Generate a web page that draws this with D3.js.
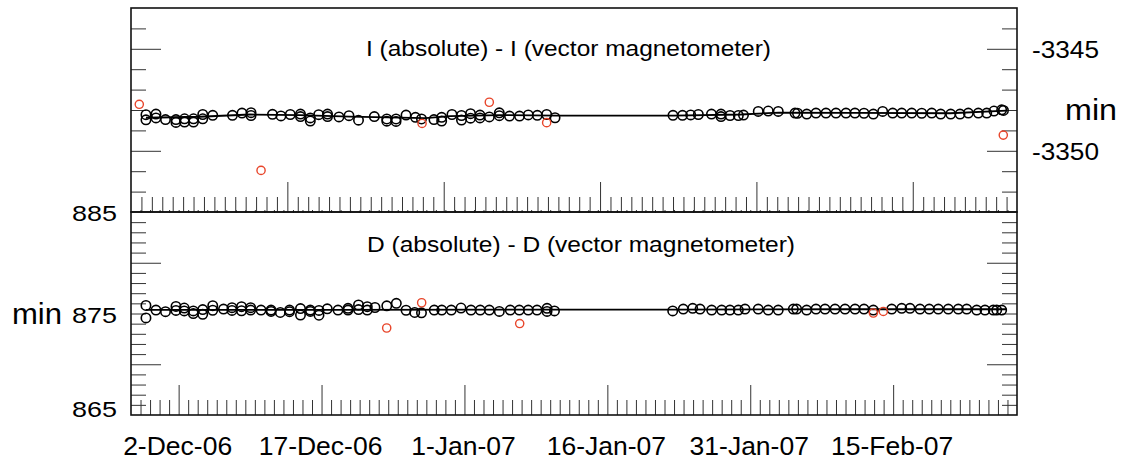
<!DOCTYPE html>
<html><head><meta charset="utf-8">
<script src="https://cdn.jsdelivr.net/npm/d3@7"></script>
<style>
body{margin:0;background:#fff}
svg{display:block}
text{font-family:"Liberation Sans",Arial,Helvetica,sans-serif;fill:#000}
</style>
</head><body>
<svg id="chart" width="1123" height="460"></svg>
<script>
// ---------- data (day offsets from 27-Nov-2006, values in minutes) ----------
const baseDate = new Date(2006, 10, 27);
const totalDays = 93;            // 27-Nov-06 .. 28-Feb-07
const topTickDays = 85;          // tick ruler of the upper panel
const majorTickLabels = ["2006-12-02","2006-12-17","2007-01-01","2007-01-16","2007-01-31","2007-02-15"];

const iTitle = "I (absolute) - I (vector magnetometer)";
const dTitle = "D (absolute) - D (vector magnetometer)";
const iDomain = [-3353, -3343];
const dDomain = [865, 885];
const iTickLabels = [-3345, -3350];
const dTickLabels = [885, 875, 865];

const iPoints = [[1.57,-3348.23],[1.57,-3348.48],[2.62,-3348.20],[2.62,-3348.39],[3.62,-3348.47],[4.72,-3348.47],[4.72,-3348.61],[5.62,-3348.43],[5.62,-3348.59],[6.56,-3348.43],[6.56,-3348.59],[7.53,-3348.22],[7.53,-3348.43],[8.58,-3348.26],[10.65,-3348.26],[11.65,-3348.15],[12.60,-3348.13],[12.60,-3348.27],[14.85,-3348.21],[15.74,-3348.29],[16.72,-3348.22],[17.79,-3348.20],[17.79,-3348.32],[18.82,-3348.39],[18.82,-3348.54],[19.70,-3348.23],[20.63,-3348.20],[20.63,-3348.32],[21.83,-3348.34],[22.88,-3348.28],[23.88,-3348.50],[25.54,-3348.32],[26.85,-3348.44],[26.85,-3348.55],[27.82,-3348.44],[27.82,-3348.56],[28.87,-3348.25],[29.86,-3348.36],[30.49,-3348.44],[31.80,-3348.47],[32.61,-3348.36],[32.61,-3348.54],[33.69,-3348.22],[34.69,-3348.27],[34.69,-3348.49],[35.64,-3348.18],[35.64,-3348.40],[36.63,-3348.25],[36.63,-3348.39],[37.61,-3348.34],[38.66,-3348.14],[38.66,-3348.28],[39.73,-3348.30],[40.78,-3348.30],[41.70,-3348.24],[42.65,-3348.26],[43.63,-3348.22],[44.51,-3348.38],[56.89,-3348.26],[57.89,-3348.26],[58.75,-3348.24],[59.55,-3348.22],[60.93,-3348.20],[61.93,-3348.20],[61.93,-3348.32],[62.88,-3348.27],[63.75,-3348.27],[64.29,-3348.25],[65.84,-3348.07],[66.89,-3348.05],[67.94,-3348.07],[69.70,-3348.15],[69.96,-3348.16],[70.93,-3348.20],[71.90,-3348.15],[72.95,-3348.15],[74.00,-3348.15],[75.05,-3348.15],[75.99,-3348.15],[76.94,-3348.16],[77.92,-3348.20],[78.90,-3348.07],[79.95,-3348.15],[80.90,-3348.15],[81.95,-3348.15],[83.00,-3348.16],[84.05,-3348.15],[84.99,-3348.20],[86.04,-3348.20],[87.02,-3348.20],[87.89,-3348.15],[88.94,-3348.15],[89.82,-3348.15],[90.58,-3348.05],[91.39,-3347.99],[91.58,-3348.02]];
const iRejected = [[0.87,-3347.72],[13.65,-3350.96],[30.55,-3348.66],[37.61,-3347.62],[43.63,-3348.62],[91.56,-3349.23]];
const iBaseline = [[1.57,-3348.38],[7.2,-3348.33],[12.5,-3348.22],[17.7,-3348.25],[23,-3348.32],[28.2,-3348.37],[30.9,-3348.40],[33.5,-3348.30],[38.7,-3348.25],[44.7,-3348.28],[56.9,-3348.28],[64,-3348.22],[68,-3348.13],[76,-3348.14],[86,-3348.16],[91.9,-3348.03]];

const dPoints = [[1.57,875.79],[1.57,874.56],[2.62,875.34],[3.62,875.18],[4.72,875.70],[4.72,875.30],[5.59,875.54],[5.59,875.25],[6.54,875.25],[6.54,875.00],[7.53,875.39],[7.53,874.92],[8.58,875.77],[8.58,875.32],[9.71,875.44],[10.60,875.57],[10.60,875.30],[11.60,875.67],[11.60,875.27],[12.56,875.57],[12.56,875.34],[13.65,875.34],[14.70,875.34],[14.70,875.20],[15.67,875.10],[16.64,875.34],[16.64,875.18],[17.79,875.49],[17.79,874.85],[18.82,875.34],[18.82,875.20],[19.73,875.30],[19.73,874.83],[20.60,875.46],[21.73,875.34],[22.78,875.51],[22.78,875.34],[23.88,875.84],[23.88,875.39],[24.80,875.67],[24.80,875.34],[25.61,875.59],[26.85,875.76],[27.85,876.00],[28.87,875.32],[29.78,875.10],[30.49,875.07],[31.83,875.34],[32.62,875.34],[33.62,875.34],[34.64,875.54],[35.69,875.34],[36.66,875.34],[37.61,875.34],[38.66,875.20],[39.81,875.34],[40.76,875.34],[41.70,875.34],[42.62,875.34],[43.67,875.51],[43.67,875.20],[44.45,875.25],[56.86,875.25],[57.97,875.44],[58.96,875.51],[59.73,875.44],[60.95,875.34],[62.00,875.34],[62.87,875.34],[63.75,875.34],[64.45,875.44],[65.84,875.44],[66.89,875.34],[67.94,875.34],[69.52,875.44],[69.87,875.44],[70.92,875.34],[71.90,875.44],[72.85,875.44],[73.90,875.44],[74.95,875.44],[76.00,875.44],[76.94,875.44],[77.92,875.34],[79.85,875.44],[80.90,875.51],[81.77,875.51],[82.82,875.44],[83.79,875.44],[84.74,875.44],[85.79,875.44],[86.84,875.44],[87.72,875.44],[88.77,875.34],[89.64,875.34],[90.51,875.34],[90.87,875.34],[91.39,875.34]];
const dRejected = [[26.84,873.57],[30.51,876.06],[40.80,874.01],[77.92,875.05],[78.97,875.20]];
const dBaseline = [[1.57,875.35],[20,875.36],[44.5,875.38],[56.9,875.38],[75,875.42],[91.9,875.42]];

// ---------- layout ----------
const L = 131, R = 1017;
const topPanel = {y0: 8, y1: 212};
const botPanel = {y0: 212, y1: 415};
const MAJ = 30, MIN = 15;

const svg = d3.select("#chart");
const toDate = d => new Date(baseDate.getTime() + d * 864e5);
const endDate = toDate(totalDays);

const x = d3.scaleTime().domain([baseDate, endDate]).range([L, R]);
const xTopRuler = d3.scaleLinear().domain([0, topTickDays]).range([L, R]);
const yI = d3.scaleLinear().domain(iDomain).range([topPanel.y1, topPanel.y0]);
const yD = d3.scaleLinear().domain(dDomain).range([botPanel.y1, botPanel.y0]);

function axisGroup(axis, tx, ty) {
  const g = svg.append("g").attr("transform", `translate(${tx},${ty})`).call(axis);
  g.select(".domain").remove();
  g.selectAll(".tick line").attr("stroke", "#333").attr("stroke-width", 1);
  return g;
}

// ---- upper panel ticks ----
const topRulerAll = d3.range(1, topTickDays);
axisGroup(d3.axisBottom(xTopRuler).tickValues(topRulerAll.filter(k => k % 15 !== 0)).tickSize(-MIN).tickFormat(""), 0, topPanel.y1);
axisGroup(d3.axisBottom(xTopRuler).tickValues(topRulerAll.filter(k => k % 15 === 0)).tickSize(-MAJ).tickFormat(""), 0, topPanel.y1);
const iVals = d3.range(iDomain[0] + 1, iDomain[1]);
const iMinor = iVals.filter(v => v % 5 !== 0), iMajor = iVals.filter(v => v % 5 === 0);
axisGroup(d3.axisLeft(yI).tickValues(iMinor).tickSize(-MIN).tickFormat(""), L, 0);
axisGroup(d3.axisLeft(yI).tickValues(iMajor).tickSize(-MAJ).tickFormat(""), L, 0);
axisGroup(d3.axisRight(yI).tickValues(iMinor).tickSize(-MIN).tickFormat(""), R, 0);
axisGroup(d3.axisRight(yI).tickValues(iMajor).tickSize(-MAJ).tickFormat(""), R, 0);

// ---- lower panel ticks ----
const days = d3.timeDay.range(d3.timeDay.offset(baseDate, 1), endDate);
const majorDates = majorTickLabels.map(s => d3.timeParse("%Y-%m-%d")(s));
const isMajor = d => majorDates.some(m => +m === +d);
axisGroup(d3.axisBottom(x).tickValues(days.filter(d => !isMajor(d))).tickSize(-MIN).tickFormat(""), 0, botPanel.y1);
axisGroup(d3.axisBottom(x).tickValues(majorDates).tickSize(-MAJ).tickFormat(""), 0, botPanel.y1);
axisGroup(d3.axisBottom(x).tickValues(days).tickSize(3).tickFormat(""), 0, botPanel.y0 - 2);
const dVals = d3.range(dDomain[0] + 1, dDomain[1]);
const dMinor = dVals.filter(v => (v - dDomain[0]) % 10 !== 5), dMajor = dVals.filter(v => (v - dDomain[0]) % 10 === 5);
axisGroup(d3.axisLeft(yD).tickValues(dMinor).tickSize(-MIN).tickFormat(""), L, 0);
axisGroup(d3.axisLeft(yD).tickValues(dMajor).tickSize(-MAJ).tickFormat(""), L, 0);
axisGroup(d3.axisRight(yD).tickValues(dMinor).tickSize(-MIN).tickFormat(""), R, 0);
axisGroup(d3.axisRight(yD).tickValues(dMajor).tickSize(-MAJ).tickFormat(""), R, 0);

// ---- frames ----
[topPanel, botPanel].forEach(p => {
  svg.append("rect").attr("x", L).attr("y", p.y0).attr("width", R - L).attr("height", p.y1 - p.y0)
    .attr("fill", "none").attr("stroke", "#111").attr("stroke-width", 1.6);
});

// ---- series ----
function drawSeries(pts, rej, base, y) {
  const line = d3.line().x(d => x(toDate(d[0]))).y(d => y(d[1]));
  svg.append("path").datum(base).attr("d", line).attr("fill", "none").attr("stroke", "#000").attr("stroke-width", 1.8);
  svg.append("g").selectAll("circle").data(pts).join("circle")
    .attr("cx", d => x(toDate(d[0]))).attr("cy", d => y(d[1])).attr("r", 4.7)
    .attr("fill", "none").attr("stroke", "#000").attr("stroke-width", 1.6);
  svg.append("g").selectAll("circle").data(rej).join("circle")
    .attr("cx", d => x(toDate(d[0]))).attr("cy", d => y(d[1])).attr("r", 4.1)
    .attr("fill", "none").attr("stroke", "#e8452a").attr("stroke-width", 1.4);
}
drawSeries(iPoints, iRejected, iBaseline, yI);
drawSeries(dPoints, dRejected, dBaseline, yD);

// ---- texts ----
svg.append("text").attr("x", 366).attr("y", 56).attr("font-size", 22.5)
  .attr("textLength", 405).attr("lengthAdjust", "spacingAndGlyphs").text(iTitle);
svg.append("text").attr("x", 367).attr("y", 251.5).attr("font-size", 22.5)
  .attr("textLength", 428).attr("lengthAdjust", "spacingAndGlyphs").text(dTitle);

const fmt = d3.timeFormat("%-d-%b-%y");
svg.append("g").selectAll("text").data(majorDates).join("text")
  .attr("x", d => x(d) - 1).attr("y", 455).attr("text-anchor", "middle").attr("font-size", 26.5).text(d => fmt(d));

svg.append("g").selectAll("text").data(iTickLabels).join("text")
  .attr("x", 1032).attr("y", d => yI(d) + 9.2).attr("font-size", 23)
  .attr("textLength", 67).attr("lengthAdjust", "spacingAndGlyphs").text(d => d);
svg.append("g").selectAll("text").data(dTickLabels).join("text")
  .attr("x", 117).attr("y", d => Math.min(yD(d) + 9.3, 417)).attr("text-anchor", "end").attr("font-size", 22.5)
  .attr("textLength", 45).attr("lengthAdjust", "spacingAndGlyphs").text(d => d);

svg.append("text").attr("x", 1065).attr("y", 120).attr("font-size", 29)
  .attr("textLength", 52).attr("lengthAdjust", "spacingAndGlyphs").text("min");
svg.append("text").attr("x", 12).attr("y", 323.5).attr("font-size", 29)
  .attr("textLength", 50).attr("lengthAdjust", "spacingAndGlyphs").text("min");
</script>
</body></html>
